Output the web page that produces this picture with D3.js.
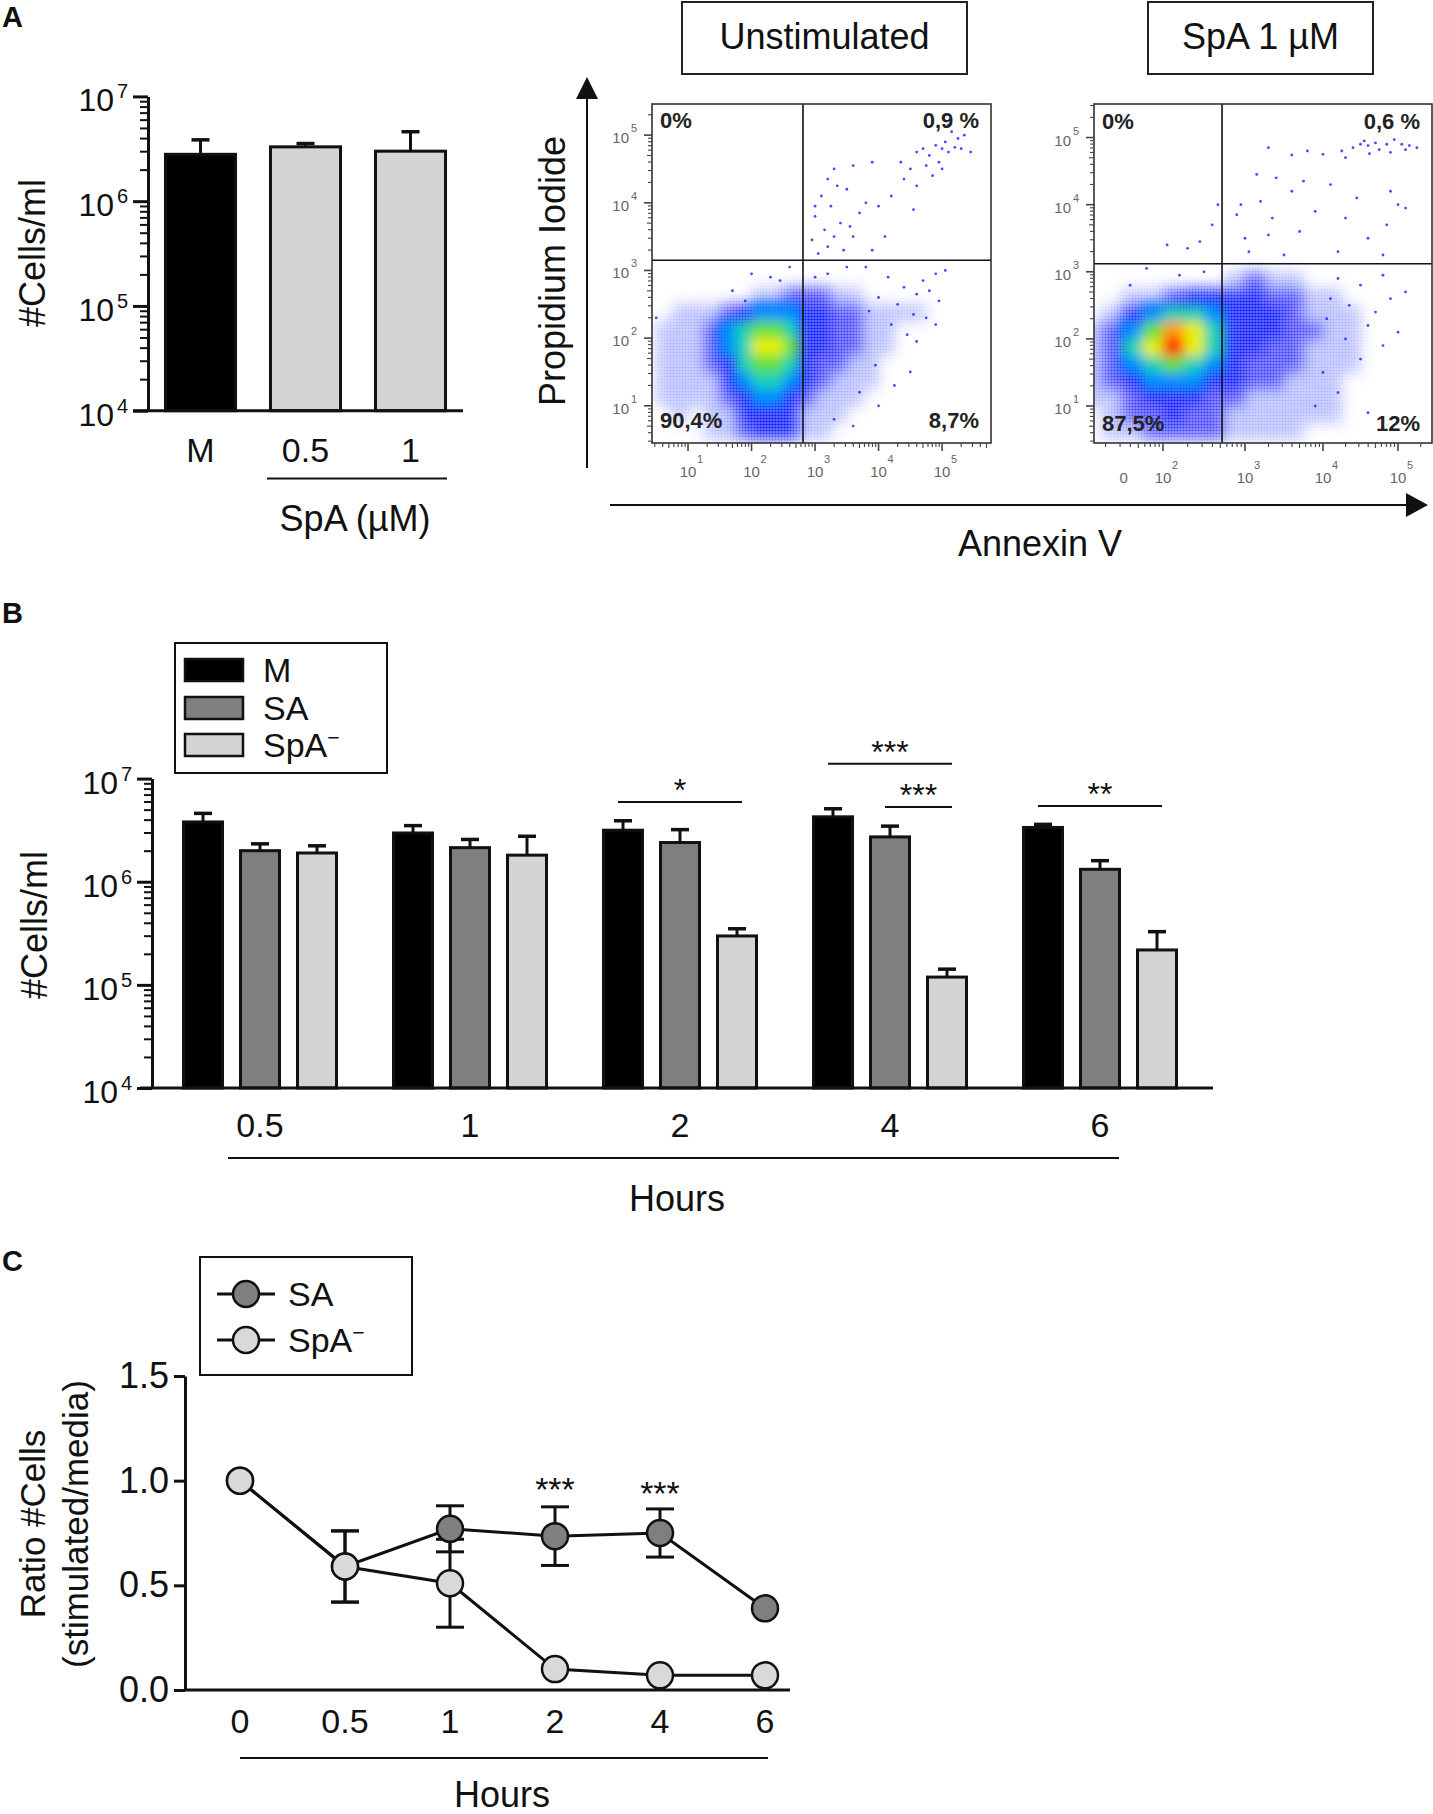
<!DOCTYPE html>
<html><head><meta charset="utf-8">
<script src="https://cdn.jsdelivr.net/npm/d3@7/dist/d3.min.js"></script>
<style>
html,body{margin:0;padding:0;background:#fff;}
svg{display:block;}
</style></head>
<body>
<svg id="fig" width="1433" height="1814" xmlns="http://www.w3.org/2000/svg"></svg>
<script>
// ================= DATA =================
// Panel A – bar chart (#Cells/ml)
const aCategories = ["M", "0.5", "1"];
const aValues = [2.8e6, 3.3e6, 3.0e6];
const aErrTop = [3.85e6, 3.55e6, 4.6e6];
const aFills = ["#000000", "#d4d4d4", "#d4d4d4"];
const logTicks = [1e4, 1e5, 1e6, 1e7];
const logTickExp = ["4", "5", "6", "7"];

// Panel A – flow cytometry
const flowTitles = ["Unstimulated", "SpA 1 µM"];
const flowQuad1 = ["0%", "0,9 %", "90,4%", "8,7%"];
const flowQuad2 = ["0%", "0,6 %", "87,5%", "12%"];
const flowGate1 = [2.81, 3.15];   // log10 Annexin V, log10 PI
const flowGate2 = [2.72, 3.12];
const flowXTickExp1 = [1, 2, 3, 4, 5];
const flowXTickExp2 = [2, 3, 4, 5];
const flowYTickExp = [1, 2, 3, 4, 5];
// density level grids (0-9), 0.25-decade bins, top row first
const flowGridStart1 = [0.5, 0.5];
const flowDensity1 = [
  "0000000000000000000",
  "0000000000000000000",
  "0000001122211000000",
  "0111234443322111100",
  "1112456653322110000",
  "1112457763322110000",
  "1112356653221100000",
  "1111345543211100000",
  "1111234432111000000",
  "0101133331110000000",
  "0001123331100000000"
];
const flowGridStart2 = [1.0, 0.5];
const flowDensity2 = [
  "0000000000000000",
  "0000000121100000",
  "0011233332211000",
  "0134554333211100",
  "1246875333221100",
  "1257975332211100",
  "1245654322211100",
  "1234443322111000",
  "1123332211111000",
  "0122322111111000",
  "0112222111100000"
];
// sparse events [log10 Annexin V, log10 PI]
const flowPoints1 = [
  [4.6,4.75],[4.7,4.8],[4.8,4.7],[4.9,4.85],[5.0,4.8],[5.05,4.9],[5.1,4.75],[5.2,4.82],[5.25,4.95],[5.15,5.05],
  [4.95,4.6],[4.75,4.55],[4.5,4.5],[4.4,4.35],[4.35,4.6],[5.3,4.8],[5.45,4.75],[5.35,5.0],[5.1,5.15],[4.85,4.4],
  [4.6,4.25],[5.0,4.5],[3.9,4.6],[3.6,4.55],[3.3,4.5],[3.1,4.1],[3.25,3.95],[3.5,4.2],[3.7,3.85],[3.4,3.7],
  [3.15,3.6],[3.0,3.8],[3.6,3.5],[3.9,3.3],[3.2,3.35],[3.05,3.25],[4.2,4.1],[4.0,3.95],[4.1,3.5],[3.35,4.25],
  [3.55,3.65],[4.55,3.9],[3.8,4.0],[2.95,3.45],[3.45,3.3],[3.2,4.35],[3.0,3.95],[3.3,3.5],
  [4.9,2.95],[5.05,3.0],[4.7,2.85],[4.8,2.7],[4.6,2.65],[4.95,2.55],[4.4,2.75],[4.3,2.5],[4.55,2.35],[4.75,2.3],
  [4.2,2.2],[4.45,2.05],[4.0,2.6],[4.15,2.9],[3.85,2.4],[4.6,1.95],[4.9,2.2],[3.95,1.6],[4.25,1.3],[3.7,1.2],
  [4.0,1.0],[3.6,0.7],[4.5,1.5],[3.3,0.8],[3.2,2.95],[3.5,3.05],[3.0,2.9],[3.8,3.05],
  [2.0,2.95],[2.3,2.9],[2.6,3.05],[1.7,2.7],[1.9,2.55],[2.45,2.85],[0.5,2.3]
];
const flowPoints2 = [
  [4.25,4.8],[4.4,4.85],[4.5,4.9],[4.6,4.88],[4.7,4.92],[4.75,4.82],[4.85,4.9],[4.95,4.97],[5.05,4.9],[5.15,4.88],
  [5.25,4.85],[4.62,4.76],[4.3,4.7],[4.0,4.75],[3.8,4.8],[3.6,4.74],[3.3,4.85],[4.9,4.78],[5.1,4.82],[4.55,4.95],
  [3.4,4.4],[3.2,4.05],[2.95,4.0],[3.6,4.2],[3.9,3.9],[4.1,4.3],[3.0,3.5],[3.3,3.55],[3.7,3.6],[4.3,3.8],
  [4.6,3.5],[4.9,4.2],[5.0,4.0],[4.85,3.7],[3.05,3.3],[3.5,3.25],[4.2,3.3],[4.8,3.25],[2.9,3.85],[3.35,3.8],
  [4.45,4.1],[5.1,3.95],[3.15,4.45],[3.75,4.35],
  [2.67,4.0],[2.6,3.7],[2.45,3.45],[2.05,3.4],[2.3,3.35],
  [4.2,2.9],[4.5,2.8],[4.8,2.95],[4.1,2.6],[4.35,2.5],[4.7,2.4],[4.05,2.3],[4.6,2.2],[4.9,2.6],[4.3,2.0],
  [4.5,1.7],[4.0,1.5],[4.8,1.9],[4.2,1.2],[3.9,1.0],[4.6,0.9],[5.1,2.7],[5.0,2.1],
  [1.8,3.05],[2.2,2.95],[2.5,3.0],[1.6,2.8]
];

// Panel B – grouped bars
const bHours = ["0.5", "1", "2", "4", "6"];
const bSeries = ["M", "SA", "SpA"];
const bFills = ["#000000", "#7f7f7f", "#d4d4d4"];
const bM = [3.8e6, 2.97e6, 3.16e6, 4.26e6, 3.36e6];
const bMErrTop = [4.6e6, 3.5e6, 3.9e6, 5.1e6, 3.6e6];
const bSA = [2.0e6, 2.14e6, 2.4e6, 2.72e6, 1.32e6];
const bSAErrTop = [2.33e6, 2.57e6, 3.2e6, 3.46e6, 1.6e6];
const bSpA = [1.9e6, 1.81e6, 2.98e5, 1.19e5, 2.18e5];
const bSpAErrTop = [2.23e6, 2.76e6, 3.5e5, 1.42e5, 3.28e5];
// significance brackets
const sigHour = ["2", "4", "4", "6"];
const sigFrom = ["M", "M", "SA", "M"];
const sigTo = ["SpA", "SpA", "SpA", "SpA"];
const sigLevel = [5.93e6, 1.39e7, 5.31e6, 5.42e6];
const sigText = ["*", "***", "***", "**"];

// Panel C – ratio lines
const cHours = ["0", "0.5", "1", "2", "4", "6"];
const cYTicks = [0, 0.5, 1.0, 1.5];
const cSA = [1.0, 0.59, 0.77, 0.735, 0.75, 0.39];
const cSAErr = [0, 0.17, 0.11, 0.14, 0.115, 0];
const cSpA = [1.0, 0.59, 0.51, 0.10, 0.07, 0.07];
const cSpAErr = [0, 0.17, 0.21, 0, 0, 0];
const cStarHours = ["2", "4"];
const cStarLevel = [0.99, 0.97];

// ================= DRAWING =================
const FONT = '"Liberation Sans", Arial, Helvetica, sans-serif';
const INK = "#111";
const svg = d3.select("#fig").style("font-family", FONT);

function txt(g, x, y, s, size, opts = {}) {
  return g.append("text").attr("x", x).attr("y", y).text(s)
    .attr("font-size", size).attr("fill", opts.fill || INK)
    .attr("font-weight", opts.bold ? "bold" : null)
    .attr("text-anchor", opts.anchor || "start")
    .attr("transform", opts.rotate ? `rotate(-90 ${x} ${y})` : null);
}
function spaMinus(g, x, y, size, anchor) {
  const t = g.append("text").attr("x", x).attr("y", y).attr("font-size", size)
    .attr("fill", INK).attr("text-anchor", anchor || "start");
  t.append("tspan").text("SpA");
  t.append("tspan").text("\u2212").attr("font-size", size * 0.62).attr("dy", -size * 0.36);
  return t;
}
function panelLetter(s, y) { txt(svg, 2, y, s, 29, {bold: true}); }

// log axis with minor ticks (A and B)
function logAxis(g, y, axisX) {
  const minors = [];
  for (let d = 4; d < 7; d++) for (let k = 2; k <= 9; k++) minors.push(k * Math.pow(10, d));
  const maj = g.append("g").attr("transform", `translate(${axisX},0)`)
    .call(d3.axisLeft(y).tickValues(logTicks).tickSize(15).tickSizeOuter(0).tickFormat(""));
  maj.select(".domain").attr("stroke", INK).attr("stroke-width", 3);
  maj.selectAll(".tick line").attr("stroke", INK).attr("stroke-width", 3);
  const mn = g.append("g").attr("transform", `translate(${axisX},0)`)
    .call(d3.axisLeft(y).tickValues(minors).tickSize(8).tickSizeOuter(0).tickFormat(""));
  mn.select(".domain").remove();
  mn.selectAll(".tick line").attr("stroke", INK).attr("stroke-width", 2);
  logTicks.forEach((v, i) => {
    txt(g, axisX - 34, y(v) + 15, "10", 32, {anchor: "end"});
    txt(g, axisX - 31, y(v) + 2, logTickExp[i], 20);
  });
}

// ---------- Panel A bars ----------
panelLetter("A", 27);
{
  const g = svg.append("g");
  const y = d3.scaleLog().domain([1e4, 1e7]).range([410.7, 96.4]);
  const x = d3.scaleBand().domain(aCategories).range([148, 463]).paddingInner(0.333).paddingOuter(0.1665);
  g.selectAll("rect.bar").data(aCategories).join("rect")
    .attr("x", d => x(d)).attr("width", x.bandwidth())
    .attr("y", (d, i) => y(aValues[i])).attr("height", (d, i) => y(1e4) - y(aValues[i]))
    .attr("fill", (d, i) => aFills[i]).attr("stroke", INK).attr("stroke-width", 3);
  aCategories.forEach((c, i) => {
    const cx = x(c) + x.bandwidth() / 2;
    g.append("line").attr("x1", cx).attr("x2", cx).attr("y1", y(aValues[i])).attr("y2", y(aErrTop[i]))
      .attr("stroke", INK).attr("stroke-width", 3);
    g.append("line").attr("x1", cx - 9).attr("x2", cx + 9).attr("y1", y(aErrTop[i])).attr("y2", y(aErrTop[i]))
      .attr("stroke", INK).attr("stroke-width", 3.5);
    txt(g, cx, 462, c, 34, {anchor: "middle"});
  });
  g.append("line").attr("x1", 133).attr("x2", 463).attr("y1", y(1e4)).attr("y2", y(1e4))
    .attr("stroke", INK).attr("stroke-width", 3);
  logAxis(g, y, 148);
  g.append("line").attr("x1", 267).attr("x2", 447).attr("y1", 478.6).attr("y2", 478.6)
    .attr("stroke", INK).attr("stroke-width", 2);
  txt(g, 355, 531, "SpA (µM)", 36, {anchor: "middle"});
  txt(g, 45, 253, "#Cells/ml", 36, {anchor: "middle", rotate: true});
}

// ---------- Panel A flow plots ----------
{
  const defs = svg.append("defs");
  const f1 = defs.append("filter").attr("id", "softLo").attr("x", "-30%").attr("y", "-30%").attr("width", "160%").attr("height", "160%");
  f1.append("feGaussianBlur").attr("stdDeviation", 7);
  const f2 = defs.append("filter").attr("id", "softHi").attr("x", "-30%").attr("y", "-30%").attr("width", "160%").attr("height", "160%");
  f2.append("feGaussianBlur").attr("stdDeviation", 6);
  // stipple mask to imitate individual events
  const pat = defs.append("pattern").attr("id", "dots").attr("width", 3).attr("height", 3).attr("patternUnits", "userSpaceOnUse");
  pat.append("rect").attr("width", 3).attr("height", 3).attr("fill", "#fff").attr("fill-opacity", 0.6);
  pat.append("circle").attr("cx", 1.5).attr("cy", 1.5).attr("r", 1.1).attr("fill", "#fff");
  defs.append("mask").attr("id", "stipple").attr("maskUnits", "userSpaceOnUse")
    .attr("x", 0).attr("y", 0).attr("width", 1433).attr("height", 600)
    .append("rect").attr("x", 0).attr("y", 0).attr("width", 1433).attr("height", 600).attr("fill", "url(#dots)");

  const levelColor = [null, "#5868ff", "#1c1cff", "#0010ff", "#0090ff", "#18d0b8", "#60e040", "#e4f000", "#ff9a00", "#ff2000"];
  const levelOpacity = [0, 0.45, 0.85, 1, 1, 1, 1, 1, 1, 1];

  const plots = [
    {
      id: 1, title: flowTitles[0], box: [682, 2, 967, 74],
      x: d3.scaleLog().domain([Math.pow(10, 0.433), Math.pow(10, 5.77)]).range([652, 991]),
      y: d3.scaleLog().domain([Math.pow(10, 0.45), Math.pow(10, 5.46)]).range([443, 104]),
      gate: flowGate1, grid: flowDensity1, start: flowGridStart1, pts: flowPoints1, quad: flowQuad1,
      xExp: flowXTickExp1, zero: false, xLabY: 477, quadY: [128, 428]
    },
    {
      id: 2, title: flowTitles[1], box: [1148, 2, 1373, 74],
      x: d3.scaleLog().domain([Math.pow(10, 1.16), 1e2, 1e3, 1e4, 1e5, Math.pow(10, 5.45)])
        .range([1094, 1163, 1245, 1323, 1398, 1432]),
      y: d3.scaleLog().domain([Math.pow(10, 0.449), Math.pow(10, 5.5)]).range([443, 104]),
      gate: flowGate2, grid: flowDensity2, start: flowGridStart2, pts: flowPoints2, quad: flowQuad2,
      xExp: flowXTickExp2, zero: true, xLabY: 483, quadY: [129, 431]
    }
  ];

  plots.forEach(p => {
    const g = svg.append("g");
    const xr = p.x.range(), x0 = xr[0], x1 = xr[xr.length - 1];
    const [yb, yt] = p.y.range();
    g.append("rect").attr("x", p.box[0]).attr("y", p.box[1]).attr("width", p.box[2] - p.box[0])
      .attr("height", p.box[3] - p.box[1]).attr("fill", "#fff").attr("stroke", "#222").attr("stroke-width", 2);
    txt(g, (p.box[0] + p.box[2]) / 2, 49, p.title, 36, {anchor: "middle"});

    defs.append("clipPath").attr("id", "clip" + p.id).append("rect")
      .attr("x", x0).attr("y", yt).attr("width", x1 - x0).attr("height", yb - yt);
    const inner = g.append("g").attr("clip-path", `url(#clip${p.id})`);
    const nRows = p.grid.length;
    const cells = [];
    p.grid.forEach((row, ri) => {
      const j = nRows - 1 - ri;
      row.split("").forEach((ch, i) => { const lv = +ch; if (lv > 0) cells.push({i, j, lv}); });
    });
    cells.sort((a, b) => a.lv - b.lv);
    const bx = i => p.x(Math.pow(10, p.start[0] + 0.25 * i));
    const by = j => p.y(Math.pow(10, p.start[1] + 0.25 * j));
    function drawCells(layer, list, cap) {
      layer.selectAll("rect").data(list).join("rect")
        .attr("x", d => bx(d.i) - 0.5).attr("width", d => bx(d.i + 1) - bx(d.i) + 1)
        .attr("y", d => by(d.j + 1) - 0.5).attr("height", d => by(d.j) - by(d.j + 1) + 1)
        .attr("fill", d => levelColor[Math.min(d.lv, cap)]).attr("fill-opacity", d => levelOpacity[Math.min(d.lv, cap)]);
    }
    const lo = inner.append("g").attr("mask", "url(#stipple)").append("g").attr("filter", "url(#softLo)");
    drawCells(lo, cells, 3);
    const hi = inner.append("g").attr("filter", "url(#softHi)");
    drawCells(hi, cells.filter(c => c.lv >= 4), 9);
    inner.append("g").selectAll("circle").data(p.pts).join("circle")
      .attr("cx", d => p.x(Math.pow(10, d[0]))).attr("cy", d => p.y(Math.pow(10, d[1])))
      .attr("r", 1.4).attr("fill", "#1a1aff").attr("fill-opacity", 0.8);

    const gx = p.x(Math.pow(10, p.gate[0])), gy = p.y(Math.pow(10, p.gate[1]));
    g.append("line").attr("x1", gx).attr("x2", gx).attr("y1", yt).attr("y2", yb).attr("stroke", "#111").attr("stroke-width", 1.6);
    g.append("line").attr("x1", x0).attr("x2", x1).attr("y1", gy).attr("y2", gy).attr("stroke", "#111").attr("stroke-width", 1.6);
    g.append("rect").attr("x", x0).attr("y", yt).attr("width", x1 - x0).attr("height", yb - yt)
      .attr("fill", "none").attr("stroke", "#333").attr("stroke-width", 1.6);

    const tk = g.append("g").attr("stroke", "#444");
    const yd = p.y.domain(), ylo = yd[0], yhi = yd[yd.length - 1];
    for (let d = 0; d <= 5; d++) for (let k = 1; k <= 9; k++) {
      const v = k * Math.pow(10, d);
      if (v >= ylo && v <= yhi) {
        const yy = p.y(v), len = k === 1 ? 8 : (k === 5 ? 5 : 4);
        tk.append("line").attr("x1", x0 - len).attr("x2", x0).attr("y1", yy).attr("y2", yy).attr("stroke-width", k === 1 ? 1.6 : 1.1);
      }
    }
    const xd = p.x.domain(), xlo = xd[0], xhi = xd[xd.length - 1];
    for (let d = 0; d <= 5; d++) for (let k = 1; k <= 9; k++) {
      const v = k * Math.pow(10, d);
      if (v >= xlo && v <= xhi) {
        const xx = p.x(v), len = k === 1 ? 8 : (k === 5 ? 5 : 4);
        tk.append("line").attr("x1", xx).attr("x2", xx).attr("y1", yb).attr("y2", yb + len).attr("stroke-width", k === 1 ? 1.6 : 1.1);
      }
    }
    flowYTickExp.forEach(e => {
      const yy = p.y(Math.pow(10, e));
      txt(g, x0 - 23, yy + 8, "10", 15, {anchor: "end", fill: "#666"});
      txt(g, x0 - 21, yy - 3, String(e), 11, {fill: "#666"});
    });
    p.xExp.forEach(e => {
      const xx = p.x(Math.pow(10, e));
      txt(g, xx, p.xLabY, "10", 15, {anchor: "middle", fill: "#666"});
      txt(g, xx + 9, p.xLabY - 14, String(e), 11, {fill: "#666"});
    });
    if (p.zero) txt(g, p.x(Math.pow(10, 1.52)), p.xLabY, "0", 15, {anchor: "middle", fill: "#666"});

    txt(g, x0 + 8, p.quadY[0], p.quad[0], 22, {bold: true, fill: "#222"});
    txt(g, x1 - 12, p.quadY[0], p.quad[1], 22, {bold: true, fill: "#222", anchor: "end"});
    txt(g, x0 + 8, p.quadY[1], p.quad[2], 22, {bold: true, fill: "#222"});
    txt(g, x1 - 12, p.quadY[1], p.quad[3], 22, {bold: true, fill: "#222", anchor: "end"});
  });

  const g = svg.append("g");
  g.append("line").attr("x1", 587).attr("x2", 587).attr("y1", 468).attr("y2", 92).attr("stroke", INK).attr("stroke-width", 2);
  g.append("path").attr("d", "M587,77 L576,99 L598,99 Z").attr("fill", INK);
  g.append("line").attr("x1", 610).attr("x2", 1410).attr("y1", 505).attr("y2", 505).attr("stroke", INK).attr("stroke-width", 2);
  g.append("path").attr("d", "M1428,505 L1406,493 L1406,517 Z").attr("fill", INK);
  txt(g, 565, 271, "Propidium Iodide", 36, {anchor: "middle", rotate: true});
  txt(g, 1040, 556, "Annexin V", 36, {anchor: "middle"});
}

// ---------- Panel B ----------
panelLetter("B", 623);
{
  const g = svg.append("g");
  const y = d3.scaleLog().domain([1e4, 1e7]).range([1088, 778.6]);
  const xg = d3.scaleBand().domain(bHours).range([155, 1205]);
  const xs = d3.scaleBand().domain(bSeries).range([19.5, 190.5]).paddingInner(0.316).paddingOuter(0.158);
  const vals = [bM, bSA, bSpA], errs = [bMErrTop, bSAErrTop, bSpAErrTop];
  const cxOf = (h, s) => xg(h) + xs(s) + xs.bandwidth() / 2;
  bSeries.forEach((s, si) => {
    g.append("g").selectAll("rect").data(bHours).join("rect")
      .attr("x", h => xg(h) + xs(s)).attr("width", xs.bandwidth())
      .attr("y", (h, i) => y(vals[si][i])).attr("height", (h, i) => y(1e4) - y(vals[si][i]))
      .attr("fill", bFills[si]).attr("stroke", INK).attr("stroke-width", 3);
    bHours.forEach((h, i) => {
      const cx = cxOf(h, s);
      g.append("line").attr("x1", cx).attr("x2", cx).attr("y1", y(vals[si][i])).attr("y2", y(errs[si][i]))
        .attr("stroke", INK).attr("stroke-width", 3);
      g.append("line").attr("x1", cx - 9).attr("x2", cx + 9).attr("y1", y(errs[si][i])).attr("y2", y(errs[si][i]))
        .attr("stroke", INK).attr("stroke-width", 3.5);
    });
  });
  g.append("line").attr("x1", 140).attr("x2", 1213).attr("y1", y(1e4)).attr("y2", y(1e4))
    .attr("stroke", INK).attr("stroke-width", 3);
  logAxis(g, y, 152);
  bHours.forEach(h => txt(g, xg(h) + xg.bandwidth() / 2, 1137, h, 34, {anchor: "middle"}));
  g.append("line").attr("x1", 228).attr("x2", 1119).attr("y1", 1158).attr("y2", 1158).attr("stroke", INK).attr("stroke-width", 2);
  txt(g, 677, 1211, "Hours", 36, {anchor: "middle"});
  txt(g, 47, 925, "#Cells/ml", 36, {anchor: "middle", rotate: true});
  sigHour.forEach((h, i) => {
    const xa = cxOf(h, sigFrom[i]) - 5, xb = cxOf(h, sigTo[i]) + 5, yy = y(sigLevel[i]);
    g.append("line").attr("x1", xa).attr("x2", xb).attr("y1", yy).attr("y2", yy).attr("stroke", INK).attr("stroke-width", 2);
    txt(g, (xa + xb) / 2, yy - 1, sigText[i], 32, {anchor: "middle"});
  });
  const lg = g.append("g");
  lg.append("rect").attr("x", 175).attr("y", 643).attr("width", 212).attr("height", 130)
    .attr("fill", "#fff").attr("stroke", INK).attr("stroke-width", 2);
  const rowY = [670, 708, 745];
  bSeries.forEach((s, i) => {
    lg.append("rect").attr("x", 185).attr("y", rowY[i] - 11).attr("width", 58).attr("height", 22)
      .attr("fill", bFills[i]).attr("stroke", INK).attr("stroke-width", 2.5);
    if (s === "SpA") spaMinus(lg, 263, rowY[i] + 12, 34);
    else txt(lg, 263, rowY[i] + 12, s, 34);
  });
}

// ---------- Panel C ----------
panelLetter("C", 1271);
{
  const g = svg.append("g");
  const x = d3.scalePoint().domain(cHours).range([240, 765]);
  const y = d3.scaleLinear().domain([0, 1.5]).range([1690, 1376]);
  const ax = g.append("g").attr("transform", "translate(185,0)")
    .call(d3.axisLeft(y).tickValues(cYTicks).tickFormat(d3.format(".1f")).tickSize(11).tickSizeOuter(0).tickPadding(5));
  ax.select(".domain").attr("stroke", INK).attr("stroke-width", 3);
  ax.selectAll(".tick line").attr("stroke", INK).attr("stroke-width", 3);
  ax.selectAll(".tick text").attr("font-size", 36).attr("fill", INK).attr("font-family", FONT);
  g.append("line").attr("x1", 185).attr("x2", 790).attr("y1", y(0)).attr("y2", y(0)).attr("stroke", INK).attr("stroke-width", 3);
  cHours.forEach(h => txt(g, x(h), 1733, h, 34, {anchor: "middle"}));
  g.append("line").attr("x1", 240).attr("x2", 768).attr("y1", 1758).attr("y2", 1758).attr("stroke", INK).attr("stroke-width", 2);
  txt(g, 502, 1807, "Hours", 36, {anchor: "middle"});
  txt(g, 45, 1524, "Ratio #Cells", 35, {anchor: "middle", rotate: true});
  txt(g, 88, 1524, "(stimulated/media)", 35, {anchor: "middle", rotate: true});

  const series = [
    {v: cSA, e: cSAErr, fill: "#7f7f7f"},
    {v: cSpA, e: cSpAErr, fill: "#d9d9d9"}
  ];
  series.forEach(s => {
    cHours.forEach((h, i) => {
      if (s.e[i] > 0) {
        const cx = x(h), ya = y(s.v[i] - s.e[i]), yb = y(s.v[i] + s.e[i]);
        g.append("line").attr("x1", cx).attr("x2", cx).attr("y1", ya).attr("y2", yb).attr("stroke", INK).attr("stroke-width", 3);
        [ya, yb].forEach(yy => g.append("line").attr("x1", cx - 14).attr("x2", cx + 14).attr("y1", yy).attr("y2", yy)
          .attr("stroke", INK).attr("stroke-width", 3));
      }
    });
  });
  const line = d3.line().x((d, i) => x(cHours[i])).y(d => y(d));
  series.forEach(s => g.append("path").attr("d", line(s.v)).attr("fill", "none").attr("stroke", INK).attr("stroke-width", 3));
  series.forEach(s => {
    g.append("g").selectAll("circle").data(s.v).join("circle")
      .attr("cx", (d, i) => x(cHours[i])).attr("cy", d => y(d)).attr("r", 13)
      .attr("fill", s.fill).attr("stroke", INK).attr("stroke-width", 2.5);
  });
  cStarHours.forEach((h, i) => txt(g, x(h), y(cStarLevel[i]) + 18, "***", 34, {anchor: "middle"}));

  const lg = g.append("g");
  lg.append("rect").attr("x", 200).attr("y", 1257).attr("width", 212).attr("height", 118)
    .attr("fill", "#fff").attr("stroke", INK).attr("stroke-width", 2);
  const ly = [1294, 1340];
  series.forEach((s, i) => {
    lg.append("line").attr("x1", 217).attr("x2", 275).attr("y1", ly[i]).attr("y2", ly[i]).attr("stroke", INK).attr("stroke-width", 3);
    lg.append("circle").attr("cx", 246).attr("cy", ly[i]).attr("r", 13).attr("fill", s.fill).attr("stroke", INK).attr("stroke-width", 2.5);
  });
  txt(lg, 288, ly[0] + 12, "SA", 34);
  spaMinus(lg, 288, ly[1] + 12, 34);
}
</script>
</body></html>
